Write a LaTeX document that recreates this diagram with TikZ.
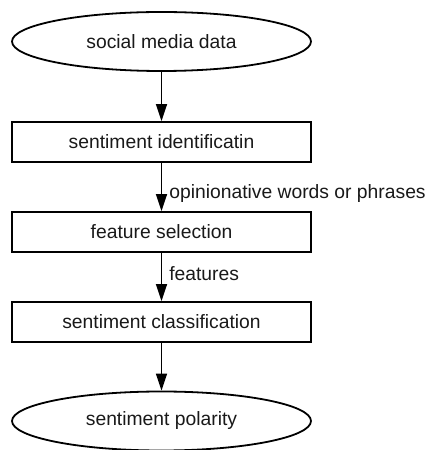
\documentclass[tikz,border=0pt]{standalone}
\usepackage{fontspec}
\setmainfont{Liberation Sans}
\usetikzlibrary{shapes.geometric,arrows.meta}
\begin{document}
\begin{tikzpicture}[x=1pt,y=1pt,
  font=\fontsize{19.3}{23}\selectfont,
  every node/.style={text=black!90},
  oval/.style={draw, line width=1.8pt, ellipse, minimum width=299pt, minimum height=59pt, inner sep=0pt},
  stepbox/.style={draw, line width=1.8pt, rectangle, minimum width=299pt, minimum height=40pt, inner sep=0pt},
  flow/.style={line width=1.6pt, -{Triangle[length=17pt,width=11pt]}},
  lbl/.style={anchor=base west, inner sep=0pt}
]
\useasboundingbox (0,0) rectangle (428,450);
\node[oval] (a) at (161.5,408.5) {social media data};
\node[stepbox] (b) at (161.5,308) {sentiment identificatin};
\node[stepbox] (c) at (161.5,218) {feature selection};
\node[stepbox] (d) at (161.5,128) {sentiment classification};
\node[oval] (e) at (161.5,29) {sentiment polarity};
\draw[flow] (a) -- (b);
\draw[flow] (b) -- (c) node[pos=0.55, lbl, xshift=7pt, yshift=-9pt] {opinionative words or phrases};
\draw[flow] (c) -- (d) node[pos=0.5, lbl, xshift=7pt, yshift=-4pt] {features};
\draw[flow] (d) -- (e);
\end{tikzpicture}
\end{document}
